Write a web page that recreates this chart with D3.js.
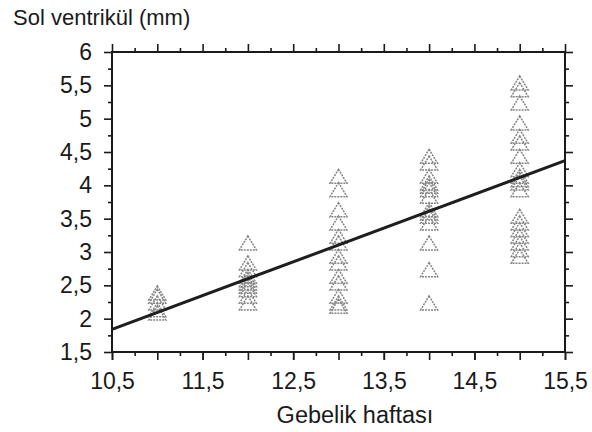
<!DOCTYPE html>
<html>
<head>
<meta charset="utf-8">
<script src="https://cdn.jsdelivr.net/npm/d3@7"></script>
<style>
	body { margin: 0; background: #fff; }
	svg text { font-family: "Liberation Sans", Arial, sans-serif; fill: #1a1a1a; }
</style>
</head>
<body>
<div id="chart"></div>
<script>

var weeks = [11, 12, 13, 14, 15];

var week11 = [2.35, 2.3, 2.2, 2.1, 2.05];
var week12 = [3.1, 2.8, 2.7, 2.6, 2.55, 2.5, 2.45, 2.4, 2.3, 2.2];
var week13 = [4.1, 3.9, 3.6, 3.4, 3.2, 3.1, 2.9, 2.8, 2.6, 2.5, 2.3, 2.2, 2.15];
var week14 = [4.4, 4.3, 4.1, 4.0, 3.95, 3.9, 3.8, 3.6, 3.55, 3.5, 3.4, 3.1, 2.7, 2.2];
var week15 = [5.5, 5.4, 5.2, 4.9, 4.7, 4.6, 4.4, 4.2, 4.1, 4.05, 4.0, 3.9, 3.5, 3.4, 3.3, 3.2, 3.1, 3.0, 2.9];

/* regression line, end points */
var fitX = [10.5, 15.5];
var fitY = [1.84, 4.37];

var xLabelTicks = [10.5, 11.5, 12.5, 13.5, 14.5, 15.5];
var xMajorTicks = [10.5, 11, 11.5, 12, 12.5, 13, 13.5, 14, 14.5, 15, 15.5];
var xMinorTicks = [10.75, 11.25, 11.75, 12.25, 12.75, 13.25, 13.75, 14.25, 14.75, 15.25];
var yMajorTicks = [1.5, 2, 2.5, 3, 3.5, 4, 4.5, 5, 5.5, 6];
var yMinorTicks = [1.75, 2.25, 2.75, 3.25, 3.75, 4.25, 4.75, 5.25, 5.75];

var yTitle = "Sol ventrikül (mm)";
var xTitle = "Gebelik haftası";

var W = 592, H = 432;
var margin = {top: 52, right: 27, bottom: 80, left: 112};
var width = W - margin.left - margin.right;
var height = H - margin.top - margin.bottom;

var svgRoot = d3.select("#chart").append("svg")
	.attr("width", W)
	.attr("height", H);

var svg = svgRoot.append("g")
	.attr("transform", "translate(" + margin.left + "," + margin.top + ")");

var x = d3.scaleLinear().domain([10.5, 15.5]).range([0, width]);
var y = d3.scaleLinear().domain([1.5, 6]).range([height, 0]);

var comma = function(d){ return String(d).replace(".", ","); };

function drawAxis(axis, transform){
	var g = svg.append("g")
		.attr("transform", transform)
		.call(axis);
	g.select(".domain").remove();
	g.selectAll(".tick line").attr("stroke", "#1a1a1a").attr("stroke-width", 1.6);
	return g;
}

/* bottom */
drawAxis(d3.axisBottom(x).tickValues(xMinorTicks).tickSize(4).tickFormat(""), "translate(0," + height + ")");
drawAxis(d3.axisBottom(x).tickValues(xMajorTicks).tickSize(8).tickFormat(""), "translate(0," + height + ")");
drawAxis(d3.axisBottom(x).tickValues(xLabelTicks).tickSize(8).tickPadding(13).tickFormat(comma), "translate(0," + height + ")")
	.selectAll("text").style("font-size", "23px");

/* top */
drawAxis(d3.axisTop(x).tickValues(xMinorTicks).tickSize(4).tickFormat(""), "translate(0,0)");
drawAxis(d3.axisTop(x).tickValues(xMajorTicks).tickSize(8).tickFormat(""), "translate(0,0)");

/* left */
drawAxis(d3.axisLeft(y).tickValues(yMinorTicks).tickSize(4).tickFormat(""), "translate(0,0)");
drawAxis(d3.axisLeft(y).tickValues(yMajorTicks).tickSize(8).tickPadding(12).tickFormat(comma), "translate(0,0)")
	.selectAll("text").style("font-size", "23px");

/* right */
drawAxis(d3.axisRight(y).tickValues(yMinorTicks).tickSize(4).tickFormat(""), "translate(" + width + ",0)");
drawAxis(d3.axisRight(y).tickValues(yMajorTicks).tickSize(8).tickFormat(""), "translate(" + width + ",0)");

/* frame */
svg.append("rect")
	.attr("width", width)
	.attr("height", height)
	.attr("fill", "none")
	.attr("stroke", "#1a1a1a")
	.attr("stroke-width", 2);

/* points */
var columns = [week11, week12, week13, week14, week15];
var points = [];
for (var i in weeks){
	columns[i].forEach(function(v){ points.push({week: weeks[i], value: v}); });
}

var triW = 17, triH = 14;
var triangle = "M0," + (-triH * 2 / 3) + "L" + (triW / 2) + "," + (triH / 3) + "L" + (-triW / 2) + "," + (triH / 3) + "Z";

svg.selectAll(".pt")
	.data(points)
	.enter()
	.append("path")
	.attr("class", "pt")
	.attr("d", triangle)
	.attr("transform", function(d){ return "translate(" + x(d.week) + "," + y(d.value) + ")"; })
	.attr("fill", "none")
	.attr("stroke", "#858585")
	.attr("stroke-width", 1.5)
	.attr("stroke-dasharray", "2,1");

/* fit line */
var fitData = fitX.map(function(d, i){ return {x: d, y: fitY[i]}; });
svg.append("path")
	.datum(fitData)
	.attr("d", d3.line().x(function(d){ return x(d.x); }).y(function(d){ return y(d.y); }))
	.attr("stroke", "#1e1e1e")
	.attr("stroke-width", 3)
	.attr("fill", "none");

/* titles */
svgRoot.append("text")
	.attr("x", 13)
	.attr("y", 25)
	.style("font-size", "22px")
	.text(yTitle);

svgRoot.append("text")
	.attr("x", 355)
	.attr("y", 423)
	.attr("text-anchor", "middle")
	.style("font-size", "23.5px")
	.text(xTitle);

</script>
</body>
</html>
